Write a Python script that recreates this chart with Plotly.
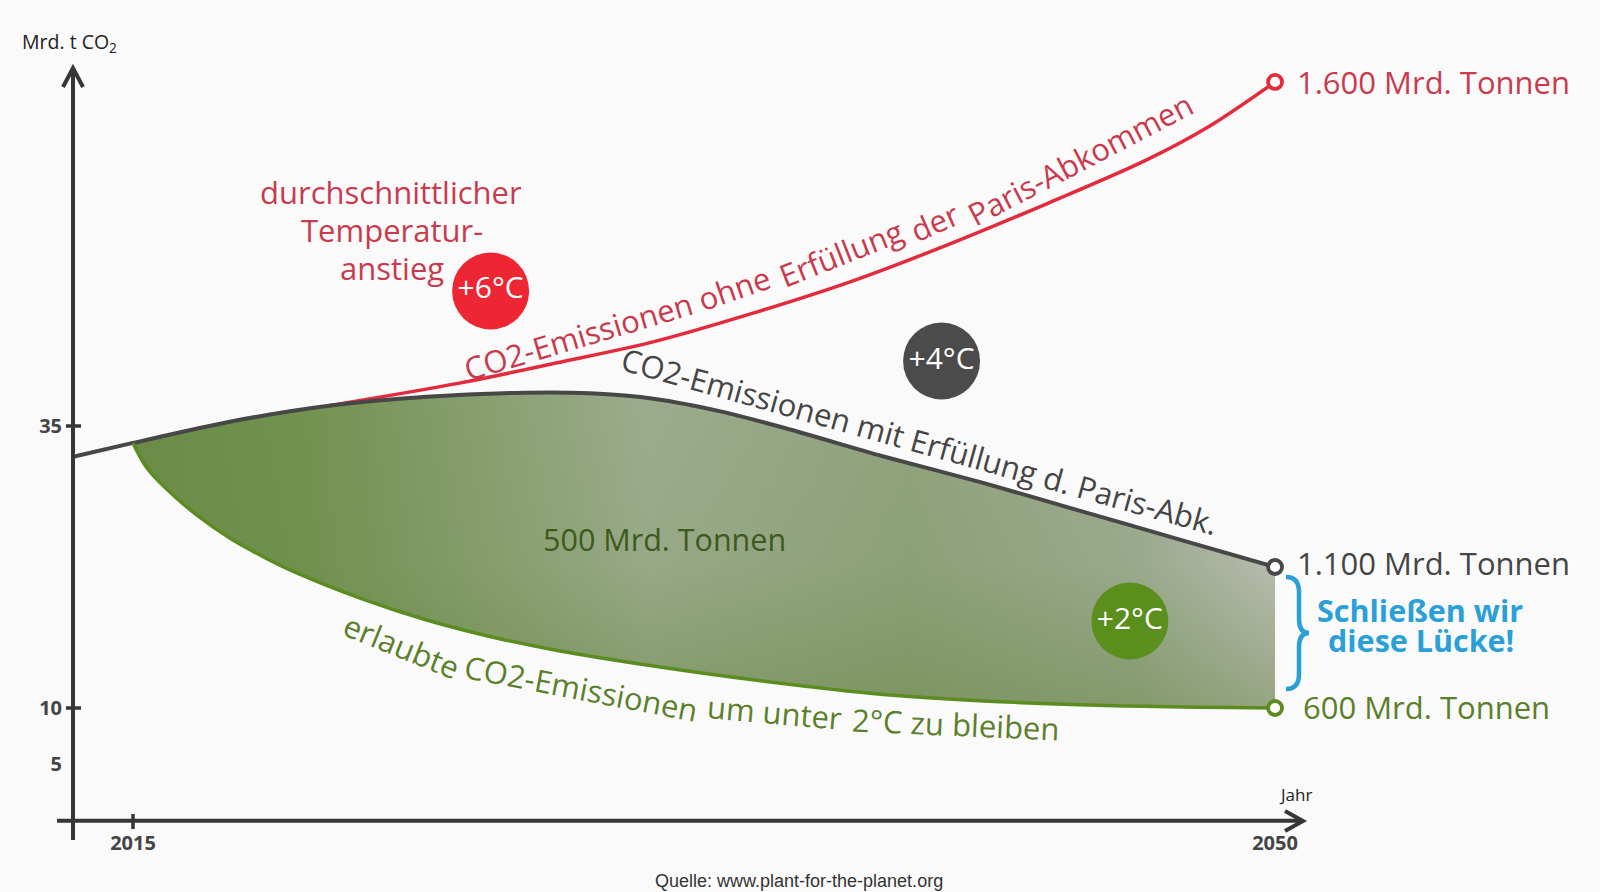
import plotly.graph_objects as go

W, H = 1600, 892

# ---------------- data ----------------
years_gray = [2013.2, 2015, 2018, 2021, 2024, 2027, 2029, 2031, 2033, 2035, 2038, 2041, 2044, 2047, 2050]
co2_gray = [32.3, 33.5, 35.4, 36.8, 37.6, 37.95, 37.9, 37.4, 36.3, 34.8, 32.3, 30.0, 27.5, 25.0, 22.5]

years_red = [2021, 2025, 2028, 2031, 2034, 2037, 2040, 2043, 2046, 2048, 2050]
co2_red = [36.8, 38.8, 40.6, 42.5, 45.0, 47.8, 51.1, 54.7, 58.5, 61.6, 65.5]

years_green = [2015, 2015.4, 2016, 2017, 2018, 2019, 2020, 2022, 2024, 2026, 2028, 2031, 2034, 2038, 2042, 2046, 2050]
co2_green = [33.5, 31.4, 29.5, 27.0, 25.0, 23.4, 22.0, 19.7, 17.8, 16.3, 15.1, 13.7, 12.5, 11.2, 10.5, 10.15, 10.0]

end_years = [2050, 2050, 2050]
end_values = [65.5, 22.5, 10.0]
end_labels = ["1.600 Mrd. Tonnen", "1.100 Mrd. Tonnen", "600 Mrd. Tonnen"]

temp_labels = ["+6°C", "+4°C", "+2°C"]
temp_years = [2025.96, 2039.78, 2045.55]
temp_values = [46.97, 40.76, 17.71]

y_ticks = [5, 10, 35]
y_tick_text = ["5", "10", "35"]
x_ticks = [2015, 2050]
x_tick_text = ["2015", "2050"]

# ---------------- colours ----------------
RED_LINE = "#e22b3c"
RED_TEXT = "#c93a4e"
GRAY_LINE = "#474747"
GRAY_TEXT = "#454545"
GREEN_LINE = "#5b8c1f"
GREEN_TEXT = "#5b7f2a"
BLUE = "#2b9fd8"
AXIS = "#363636"
BG = "#fafafa"
FONT = "Open Sans"

# ---------------- pixel <-> data frame ----------------
X0_PX, YEAR0, PX_PER_YEAR = 133.0, 2015.0, 32.63
Y0_PX, PX_PER_UNIT = 820.8, 11.28
x_range = [YEAR0 - X0_PX / PX_PER_YEAR, YEAR0 + (W - X0_PX) / PX_PER_YEAR]
y_range = [-(H - Y0_PX) / PX_PER_UNIT, Y0_PX / PX_PER_UNIT]
Y_AXIS_PX = 73.0
GREEN_SMOOTH = 1.0


def P(px, py):
    return px / W, 1 - py / H


fig = go.Figure()

# fill between allowed path and Paris path (horizontal tint + darker lower part)
gray_fill_x = [x for x in years_gray if x >= 2015]
gray_fill_y = [y for x, y in zip(years_gray, co2_gray) if x >= 2015]
fills = [
    dict(type="horizontal",
         colorscale=[[0, "#6b8c47"], [0.15, "#729250"], [0.45, "#9cac8d"], [0.68, "#90a37d"],
                     [0.88, "#9fac92"], [1, "#bdc0b6"]]),
    dict(type="vertical", start=10, stop=38,
         colorscale=[[0, "rgba(96,128,60,0.42)"], [0.45, "rgba(96,128,60,0.08)"],
                     [1, "rgba(96,128,60,0)"]]),
]
for fg in fills:
    fig.add_trace(go.Scatter(x=years_green, y=co2_green, mode="lines",
                             line=dict(width=0, shape="spline", smoothing=GREEN_SMOOTH),
                             hoverinfo="skip", showlegend=False))
    fig.add_trace(go.Scatter(x=gray_fill_x, y=gray_fill_y, mode="lines", fill="tonexty",
                             line=dict(width=0, shape="spline", smoothing=0.8),
                             fillcolor="rgba(134,160,108,0.5)", fillgradient=fg,
                             hoverinfo="skip", showlegend=False))

# lines
fig.add_trace(go.Scatter(x=years_red, y=co2_red, mode="lines",
                         line=dict(color=RED_LINE, width=3.5, shape="spline", smoothing=0.9),
                         showlegend=False))
fig.add_trace(go.Scatter(x=years_gray, y=co2_gray, mode="lines",
                         line=dict(color=GRAY_LINE, width=4, shape="spline", smoothing=0.8),
                         showlegend=False))
fig.add_trace(go.Scatter(x=years_green, y=co2_green, mode="lines",
                         line=dict(color=GREEN_LINE, width=3.5, shape="spline", smoothing=GREEN_SMOOTH),
                         showlegend=False))

# end markers
fig.add_trace(go.Scatter(x=end_years, y=end_values, mode="markers",
                         marker=dict(symbol="circle", size=14, color="white",
                                     line=dict(width=3.8, color=[RED_LINE, GRAY_LINE, GREEN_LINE])),
                         showlegend=False))

# temperature bubbles
fig.add_trace(go.Scatter(x=temp_years, y=temp_values, mode="markers+text",
                         marker=dict(size=77, color=["#ee2533", "#4b4b4b", "#5a8e1d"], line=dict(width=0)),
                         text=temp_labels, textposition="middle center",
                         textfont=dict(family=FONT, size=30, color="white"),
                         showlegend=False))

# ---------------- axes drawn as shapes ----------------
y_axis_year = YEAR0 - (X0_PX - Y_AXIS_PX) / PX_PER_YEAR
shapes = []
shapes.append(dict(type="line", xref="x", yref="y", x0=y_axis_year, x1=y_axis_year,
                   y0=(Y0_PX - 840) / PX_PER_UNIT, y1=(Y0_PX - 70) / PX_PER_UNIT,
                   line=dict(color=AXIS, width=4)))
shapes.append(dict(type="line", xref="x", yref="y", y0=0, y1=0,
                   x0=YEAR0 - (X0_PX - 57) / PX_PER_YEAR, x1=YEAR0 + (1300 - X0_PX) / PX_PER_YEAR,
                   line=dict(color=AXIS, width=4)))


def path_px(points):
    s = ""
    for i, (px, py) in enumerate(points):
        x, y = P(px, py)
        s += ("M" if i == 0 else "L") + f"{x:.5f},{y:.5f} "
    return s


shapes.append(dict(type="path", xref="paper", yref="paper",
                   path=path_px([(63, 87), (73, 68), (83, 87)]), line=dict(color=AXIS, width=4)))
shapes.append(dict(type="path", xref="paper", yref="paper",
                   path=path_px([(1285, 811), (1303, 821), (1285, 831)]), line=dict(color=AXIS, width=4)))
# tick marks
for v in [35, 10]:
    py = Y0_PX - v * PX_PER_UNIT
    shapes.append(dict(type="line", xref="paper", yref="paper",
                       x0=P(66, py)[0], x1=P(81, py)[0], y0=P(0, py)[1], y1=P(0, py)[1],
                       line=dict(color=AXIS, width=3.5)))
shapes.append(dict(type="line", xref="paper", yref="paper",
                   x0=P(X0_PX, 0)[0], x1=P(X0_PX, 0)[0], y0=P(0, 814)[1], y1=P(0, 829)[1],
                   line=dict(color=AXIS, width=3.5)))


def brace_path():
    pts = [("M", 1286, 577), ("Q", 1299, 577, 1299, 592), ("L", 1299, 619),
           ("Q", 1299, 633, 1309, 633), ("Q", 1299, 633, 1299, 647), ("L", 1299, 674),
           ("Q", 1299, 689, 1286, 689)]
    s = ""
    for p in pts:
        cmd = p[0]
        coords = p[1:]
        s += cmd
        for i in range(0, len(coords), 2):
            x, y = P(coords[i], coords[i + 1])
            s += f"{x:.5f},{y:.5f} "
    return s


shapes.append(dict(type="path", xref="paper", yref="paper", path=brace_path(),
                   line=dict(color=BLUE, width=4.5)))

# ---------------- texts ----------------
ann = []


def text(px, py, t, size=30, color="#333", angle=0, xanchor="center", bold=False, family=FONT):
    x, y = P(px, py)
    ann.append(dict(x=x, y=y, xref="paper", yref="paper", text=t, showarrow=False,
                    xanchor=xanchor, yanchor="middle", textangle=angle,
                    font=dict(family=family, size=size, color=color,
                              weight="bold" if bold else "normal")))


text(69, 42, "Mrd. t CO<sub>2</sub>", size=19.5, color="#222")
text(1295, 794, "Jahr", size=17, color="#222")
text(799, 881, "Quelle: www.plant-for-the-planet.org", size=18, color="#333",
     family="Liberation Sans, Arial")

text(1295, 82, end_labels[0], color=RED_TEXT, xanchor="left", size=31)
text(1295, 563, end_labels[1], color=GRAY_TEXT, xanchor="left", size=31)
text(1301, 707, end_labels[2], color=GREEN_TEXT, xanchor="left", size=31)

text(1420, 610, "Schließen wir", color=BLUE, bold=True, size=30.5)
text(1421, 640, "diese Lücke!", color=BLUE, bold=True, size=30.5)

text(391, 192, "durchschnittlicher", color=RED_TEXT, size=31)
text(392, 230, "Temperatur-", color=RED_TEXT, size=31)
text(392, 268, "anstieg", color=RED_TEXT, size=31)

text(664, 539, "500 Mrd. Tonnen", color="#3d5a1c", size=30.5)

# red curve label, word by word along the curve
for w, (px, py, a) in [("CO2-Emissionen", (578, 336, -16.5)), ("ohne", (734, 288, -19)),
                       ("Erfüllung", (841, 253, -21.5)), ("der", (934, 222, -24)),
                       ("Paris-Abkommen", (1080, 159, -27.5))]:
    text(px, py, w, color=RED_TEXT, angle=a, size=31)

# gray curve label
text(920, 441, "CO2-Emissionen mit Erfüllung d. Paris-Abk.", color=GRAY_TEXT, angle=15.6, size=31)

# green curve label
for w, (px, py, a) in [("erlaubte", (402, 646, 22)), ("CO2-Emissionen", (581, 688, 10.8)),
                       ("um unter", (774, 712, 5)), ("2°C zu bleiben", (956, 724, 2.5))]:
    text(px, py, w, color=GREEN_TEXT, angle=a, size=31)

fig.update_layout(
    width=W, height=H, margin=dict(l=0, r=0, t=0, b=0),
    paper_bgcolor=BG, plot_bgcolor=BG, showlegend=False,
    shapes=shapes, annotations=ann,
    xaxis=dict(range=x_range, showgrid=False, zeroline=False, showline=False,
               tickvals=x_ticks, ticktext=x_tick_text, ticks="",
               tickfont=dict(family=FONT, size=20, color="#444", weight="bold"),
               anchor="free", position=(H - Y0_PX) / H, ticklabelstandoff=8,
               fixedrange=True, automargin=False),
    yaxis=dict(range=y_range, showgrid=False, zeroline=False, showline=False,
               tickvals=y_ticks, ticktext=y_tick_text, ticks="",
               tickfont=dict(family=FONT, size=20, color="#444", weight="bold"),
               anchor="free", position=Y_AXIS_PX / W, ticklabelstandoff=11,
               fixedrange=True, automargin=False),
)

fig.write_html("out.html", config={"displayModeBar": False},
               post_script="document.body.style.margin='0';document.body.style.background='%s';" % BG)
